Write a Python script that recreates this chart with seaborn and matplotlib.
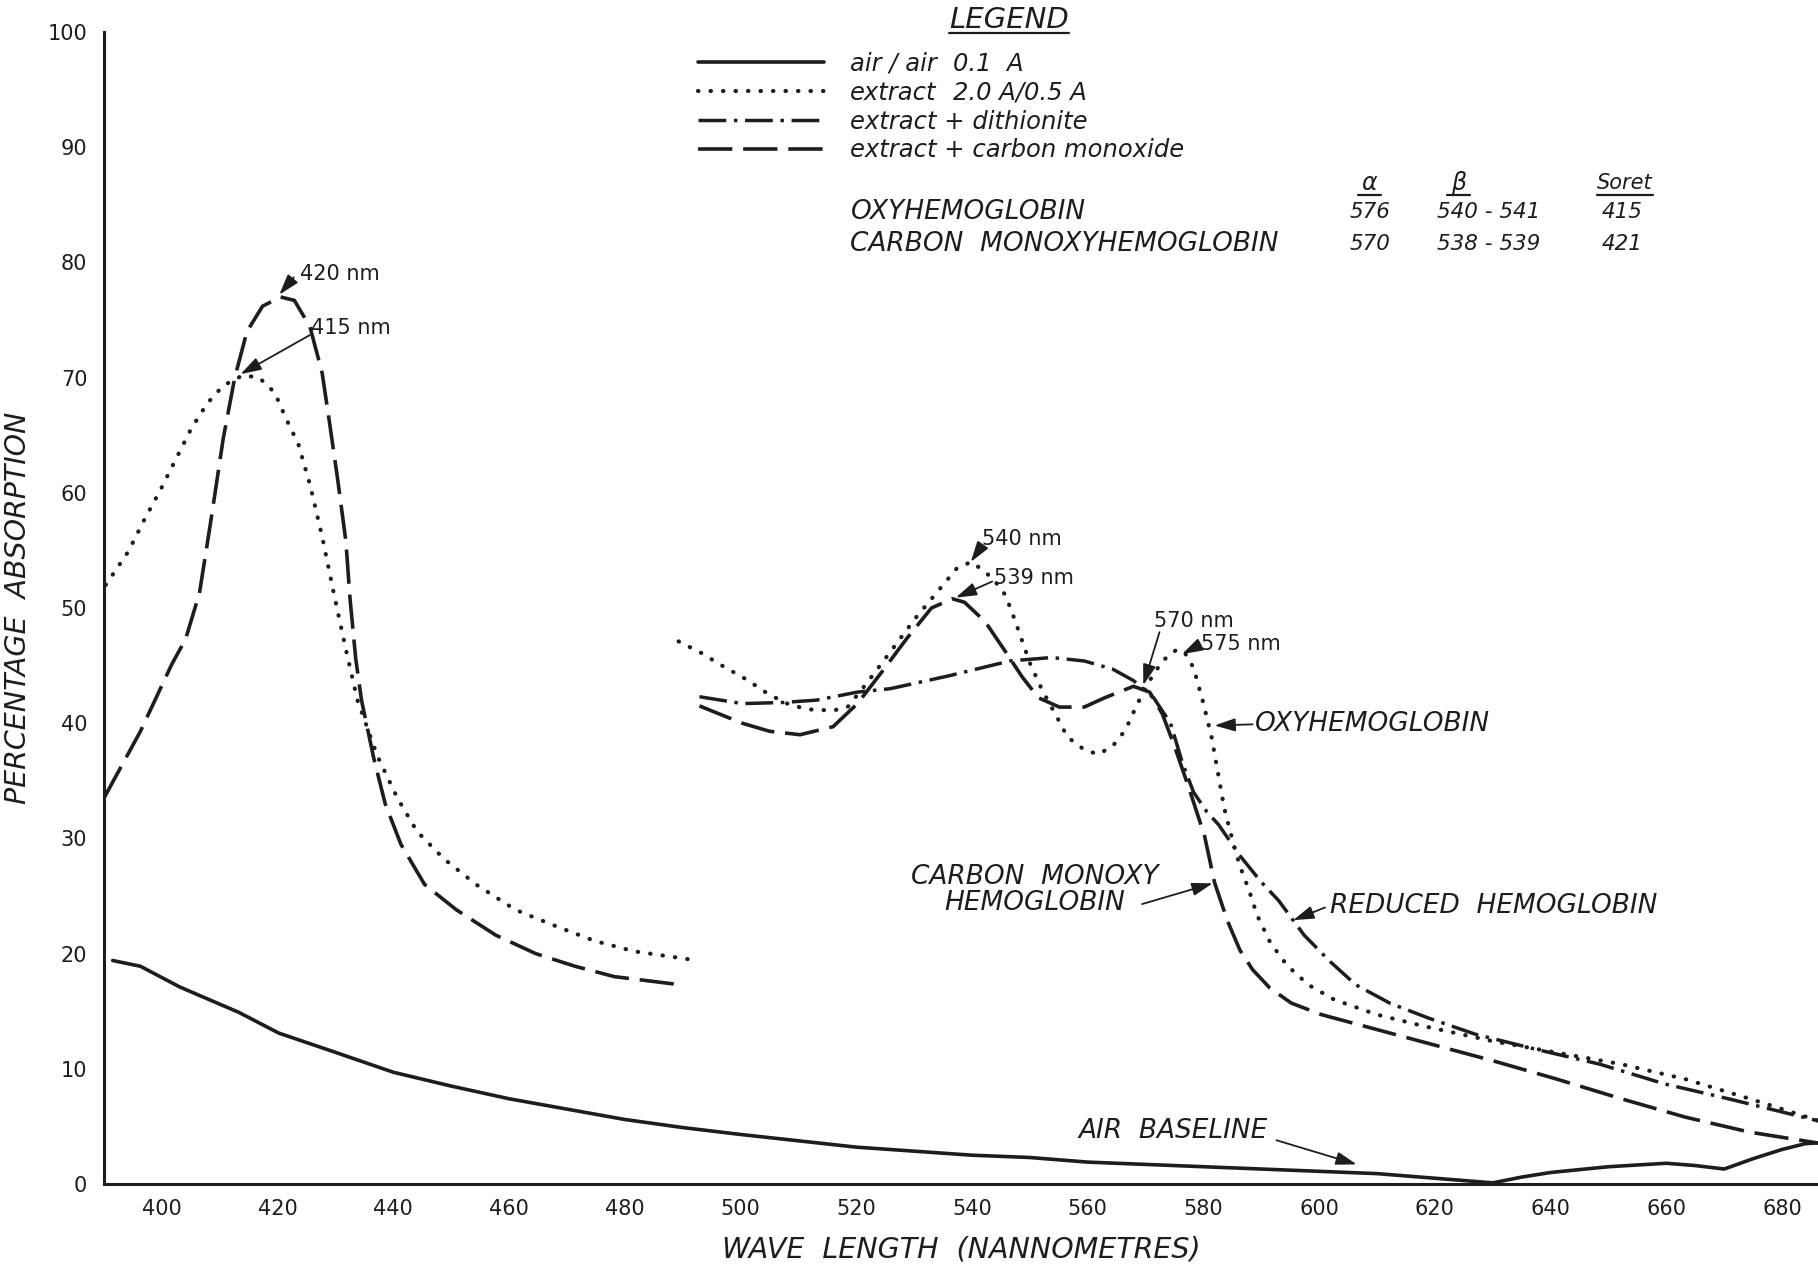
"""
Hemoglobin absorption spectra: air baseline vs. blood extract
(oxy / reduced with dithionite / carbon monoxide), redrawn from a scanned chart.
"""

import pandas as pd
import matplotlib
matplotlib.use("Agg")
import matplotlib.pyplot as plt
import seaborn as sns
from matplotlib.lines import Line2D

# ─── DATA ────────────────────────────────────────────────────────────────────

# air / air 0.1 A (solid)
AIR_NM = [391.5, 396.3, 403.1, 413.3, 420.2, 429.0, 440, 450, 460, 470, 480,
          490, 500, 520, 540, 550, 560, 580, 600, 610, 620, 625, 630, 635,
          640, 650, 660, 665, 670, 675, 680, 684, 687]
AIR_PCT = [19.4, 18.9, 17.1, 14.9, 13.1, 11.6, 9.7, 8.5, 7.4, 6.5, 5.6,
           4.9, 4.3, 3.2, 2.5, 2.3, 1.9, 1.5, 1.1, 0.9, 0.5, 0.3, 0.1, 0.6,
           1.0, 1.5, 1.8, 1.6, 1.3, 2.2, 3.0, 3.5, 3.6]

# extract (oxyhemoglobin, dotted) - Soret range
OXY_SORET_NM = [390.3, 394.2, 396.9, 399.7, 402.4, 405.1, 407.9, 410.6, 414.0,
                416.8, 419.5, 421.5, 423.6, 425.6, 427.7, 429.7, 431.8, 433.8,
                437.2, 440.7, 444.1, 448.8, 454.3, 461.1, 468.0, 474.8, 481.6,
                491.2]
OXY_SORET_PCT = [52.0, 54.9, 57.6, 60.2, 62.9, 65.6, 67.8, 69.3, 70.2,
                 70.0, 68.7, 66.4, 64.2, 60.7, 56.2, 51.3, 46.4, 42.0,
                 37.2, 33.5, 30.6, 28.2, 26.0, 23.8, 22.4, 21.1, 20.2,
                 19.5]

# extract (oxyhemoglobin, dotted) - visible range
OXY_VIS_NM = [489.3, 493.2, 496.8, 501.0, 504.9, 508.5, 511.7, 516.0, 518.5,
              521.7, 525.9, 530.2, 534.5, 537.3, 539.8, 541.6, 543.7, 545.8,
              547.3, 548.7, 550.1, 552.2, 554.4, 556.5, 559.4, 561.8, 564.3,
              566.5, 568.6, 570.7, 572.9, 575.4, 576.8, 578.3, 580.0, 581.4,
              582.5, 583.6, 585.2, 586.3, 587.8, 589.3, 591.5, 594.4, 598.1,
              602.6, 610.0, 618.1, 630.0, 641.1, 652.2, 663.3, 674.4, 686.9]
OXY_VIS_PCT = [47.1, 46.1, 45.0, 43.8, 42.5, 41.6, 41.2, 41.1, 41.4,
               43.4, 46.2, 49.1, 51.7, 53.4, 54.0, 53.4, 52.5, 51.1,
               49.1, 47.1, 45.1, 42.8, 40.8, 38.8, 37.7, 37.3, 38.0,
               39.4, 41.7, 43.7, 45.4, 46.4, 46.1, 44.8, 41.7, 38.8,
               35.7, 32.6, 29.5, 27.6, 25.6, 23.3, 21.0, 19.0, 17.3,
               16.0, 14.7, 13.7, 12.4, 11.4, 10.4, 9.1, 7.4, 5.4]

# extract + dithionite (reduced hemoglobin, dash-dot)
RED_VIS_NM = [492.9, 500.3, 507.4, 513.1, 520.2, 525.9, 535.9, 546.5, 553.7,
              559.4, 564.3, 567.9, 571.4, 574.3, 576.4, 578.3, 580.6, 582.6,
              586.3, 590.0, 593.0, 597.4, 601.9, 606.3, 612.2, 618.9, 627.0,
              637.4, 648.5, 659.6, 670.7, 686.9]
RED_VIS_PCT = [42.3, 41.7, 41.8, 42.0, 42.7, 43.0, 44.1, 45.4, 45.7,
               45.4, 44.7, 43.7, 42.2, 40.0, 36.5, 34.0, 32.3, 31.2,
               28.5, 26.2, 24.6, 21.6, 19.3, 17.3, 15.7, 14.4, 13.0,
               11.7, 10.4, 8.7, 7.4, 5.4]

# extract + carbon monoxide (dashed) - Soret range
CO_SORET_NM = [390.1, 396.3, 401.7, 404.1, 406.5, 408.6, 410.6, 412.6, 414.7,
               417.4, 420.5, 422.9, 425.6, 427.7, 429.0, 430.4, 431.8, 432.5,
               433.5, 434.5, 436.6, 438.6, 441.3, 445.4, 450.9, 457.7, 464.6,
               471.4, 478.2, 489.5]
CO_SORET_PCT = [33.6, 39.3, 45.1, 47.3, 51.3, 58.0, 64.7, 70.0, 74.0,
                76.2, 77.0, 76.7, 74.4, 70.4, 66.0, 61.1, 55.8, 50.9,
                45.6, 42.0, 37.0, 33.0, 29.5, 26.0, 23.8, 21.6, 20.0,
                18.9, 18.0, 17.3]

# extract + carbon monoxide (dashed) - visible range
CO_VIS_NM = [492.9, 500.3, 505.0, 510.3, 516.0, 520.2, 524.5, 528.8, 533.0,
             536.6, 538.7, 542.3, 545.8, 548.7, 551.5, 555.1, 559.4, 562.9,
             567.9, 570.7, 572.9, 575.0, 577.6, 580.2, 581.9, 584.1, 586.3,
             588.5, 591.5, 595.2, 600.4, 607.8, 615.2, 622.6, 630.0, 641.1,
             652.2, 663.3, 674.4, 686.9]
CO_VIS_PCT = [41.5, 40.0, 39.3, 39.0, 39.7, 41.7, 44.5, 47.4, 50.0,
              50.8, 50.5, 48.8, 46.2, 44.0, 42.2, 41.4, 41.4, 42.2,
              43.2, 42.7, 40.8, 38.0, 34.2, 30.2, 26.2, 22.9, 20.3,
              18.6, 17.0, 15.7, 14.7, 13.7, 12.7, 11.7, 10.7, 9.1,
              7.4, 5.8, 4.5, 3.5]

LEGEND_LABELS = ["air / air", "extract", "extract + dithionite",
                 "extract + carbon monoxide"]
LEGEND_AMOUNTS = ["0.1  A", "2.0 A/0.5 A"]

TABLE_ROWS = ["OXYHEMOGLOBIN", "CARBON  MONOXYHEMOGLOBIN"]
TABLE_HEADS = ["α", "β", "Soret"]
ALPHA_BAND = ["576", "570"]
BETA_BAND = ["540 - 541", "538 - 539"]
SORET_BAND = ["415", "421"]

XTICKS = list(range(400, 681, 10))
XTICK_LABELS = [str(v) if v % 20 == 0 else "" for v in XTICKS]
YTICKS = list(range(0, 101, 10))

# ─── STYLE ───────────────────────────────────────────────────────────────────

INK = "#1d1d1d"
STYLES = {
    "air": dict(linewidth=2.6, linestyle="-"),
    "oxy": dict(linewidth=3.0, linestyle=(0, (0.1, 2.9)), dash_capstyle="round"),
    "red": dict(linewidth=2.5, linestyle=(0, (8, 2.2, 1, 2.2))),
    "co": dict(linewidth=2.6, linestyle=(0, (9.5, 3))),
}

# label, text anchor (nm, %), horizontal alignment, arrow tail, arrow head
CALLOUTS = [
    ("420 nm", (423.8, 79.0), "left", (422.8, 78.7), (420.3, 77.2)),
    ("415 nm", (425.8, 74.3), "left", (425.6, 73.7), (413.6, 70.3)),
    ("540 nm", (541.8, 56.0), "left", (541.6, 55.3), (539.8, 54.0)),
    ("539 nm", (543.8, 52.6), "left", (543.5, 52.3), (537.2, 50.9)),
    ("570 nm", (571.4, 48.9), "left", (572.4, 47.9), (569.6, 43.3)),
    ("575 nm", (579.6, 46.9), "left", (579.4, 46.8), (576.3, 46.0)),
]
NAMES = [
    ("OXYHEMOGLOBIN", (588.9, 39.9), "left", (588.5, 39.9), (581.9, 39.8)),
    ("CARBON  MONOXY\nHEMOGLOBIN", (550.8, 25.5), "center", (569.4, 24.3), (581.6, 26.1)),
    ("REDUCED  HEMOGLOBIN", (601.9, 24.1), "left", (601.0, 24.0), (595.5, 22.9)),
    ("AIR  BASELINE", (558.4, 4.6), "left", (592.6, 3.8), (606.5, 1.7)),
]

sns.set_style("white")
plt.rcParams["font.family"] = ["DejaVu Sans"]

fig = plt.figure(figsize=(18.18, 12.64), dpi=100)
ax = fig.add_axes([104 / 1818, 80 / 1264, 1 - 104 / 1818, 1152 / 1264])

series = [
    ("air", AIR_NM, AIR_PCT),
    ("oxy", OXY_SORET_NM, OXY_SORET_PCT),
    ("oxy", OXY_VIS_NM, OXY_VIS_PCT),
    ("red", RED_VIS_NM, RED_VIS_PCT),
    ("co", CO_SORET_NM, CO_SORET_PCT),
    ("co", CO_VIS_NM, CO_VIS_PCT),
]
for key, nm, pct in series:
    df = pd.DataFrame({"nm": nm, "pct": pct})
    sns.lineplot(data=df, x="nm", y="pct", ax=ax, color=INK, errorbar=None,
                 sort=False, **STYLES[key])

ax.set_xlim(390, 686.2)
ax.set_ylim(0, 100)
sns.despine(ax=ax)
for side in ("left", "bottom"):
    ax.spines[side].set_linewidth(2.2)
    ax.spines[side].set_color(INK)

ax.set_xticks(XTICKS)
ax.set_xticklabels(XTICK_LABELS)
ax.set_yticks(YTICKS)
ax.tick_params(axis="x", direction="in", length=7, width=1.3, pad=11,
               labelsize=15, colors=INK)
ax.tick_params(axis="y", direction="in", length=10, width=1.3, pad=12,
               labelsize=15, colors=INK)

ax.set_xlabel("WAVE  LENGTH  (NANNOMETRES)", fontsize=20.5, style="italic",
              color=INK, labelpad=12)
ax.set_ylabel("PERCENTAGE  ABSORPTION", fontsize=20.5, style="italic",
              color=INK, labelpad=11)

arrow = dict(arrowstyle="-|>,head_length=0.7,head_width=0.22", color=INK,
             lw=1.3, shrinkA=0, shrinkB=0, mutation_scale=18)
for label, pos, ha, tail, head in CALLOUTS:
    ax.text(*pos, label, ha=ha, va="center", fontsize=15, color=INK)
    ax.annotate("", xy=head, xytext=tail, arrowprops=arrow)
for label, pos, ha, tail, head in NAMES:
    ax.text(*pos, label, ha=ha, va="center", fontsize=19, style="italic",
            color=INK, linespacing=1.0, multialignment="center")
    ax.annotate("", xy=head, xytext=tail, arrowprops=arrow)

# ─── LEGEND + TABLE ──────────────────────────────────────────────────────────

handles = [Line2D([], [], color=INK, **STYLES[k]) for k in ("air", "oxy", "red", "co")]
leg = ax.legend(handles, LEGEND_LABELS, loc="upper left",
                bbox_to_anchor=(698 / 1818, 0.959), bbox_transform=fig.transFigure,
                frameon=False, handlelength=5.2, handletextpad=1.05,
                labelspacing=0.2, borderpad=0, borderaxespad=0,
                prop=dict(style="italic", size=17.5))
for t in leg.get_texts():
    t.set_color(INK)

title = ax.text(546.4, 101.0, "LEGEND", ha="center", va="center", fontsize=21,
                style="italic", color=INK, clip_on=False)

heads = []
for head, x in zip(TABLE_HEADS, [608.7, 624.1, 652.8]):
    heads.append(ax.text(x, 86.9, head, ha="center", va="center",
                         fontsize=15 if head == "Soret" else 17,
                         style="italic", color=INK))
for row, (name, a, b, s) in enumerate(zip(TABLE_ROWS, ALPHA_BAND, BETA_BAND, SORET_BAND)):
    y = [84.4, 81.6][row]
    ax.text(519.0, y, name, ha="left", va="center", fontsize=19, style="italic", color=INK)
    ax.text(608.7, y, a, ha="center", va="center", fontsize=15.5, style="italic", color=INK)
    ax.text(629.3, y, b, ha="center", va="center", fontsize=15.5, style="italic", color=INK)
    ax.text(652.4, y, s, ha="center", va="center", fontsize=15.5, style="italic", color=INK)

fig.canvas.draw()
inv = ax.transData.inverted()
for t, amount in zip(leg.get_texts(), LEGEND_AMOUNTS):
    bb = t.get_window_extent()
    _, y = inv.transform((0, (bb.y0 + bb.y1) / 2))
    ax.text(536.8, y, amount, ha="left", va="center", fontsize=17.5,
            style="italic", color=INK)

# underlines: LEGEND title just below its glyphs, table headers at a fixed rule
bb = title.get_window_extent()
y = bb.y0 + 1
fig.add_artist(Line2D([bb.x0 / 1818, bb.x1 / 1818], [y / 1264, y / 1264],
                      color=INK, lw=1.6))
rule_y = ax.transData.transform((0, 85.85))[1]
for t in heads:
    bb = t.get_window_extent()
    pad = 4 if len(t.get_text()) == 1 else 0
    fig.add_artist(Line2D([(bb.x0 - pad) / 1818, (bb.x1 + pad) / 1818],
                          [rule_y / 1264, rule_y / 1264], color=INK, lw=1.6))

fig.savefig("out.png", dpi=100)
